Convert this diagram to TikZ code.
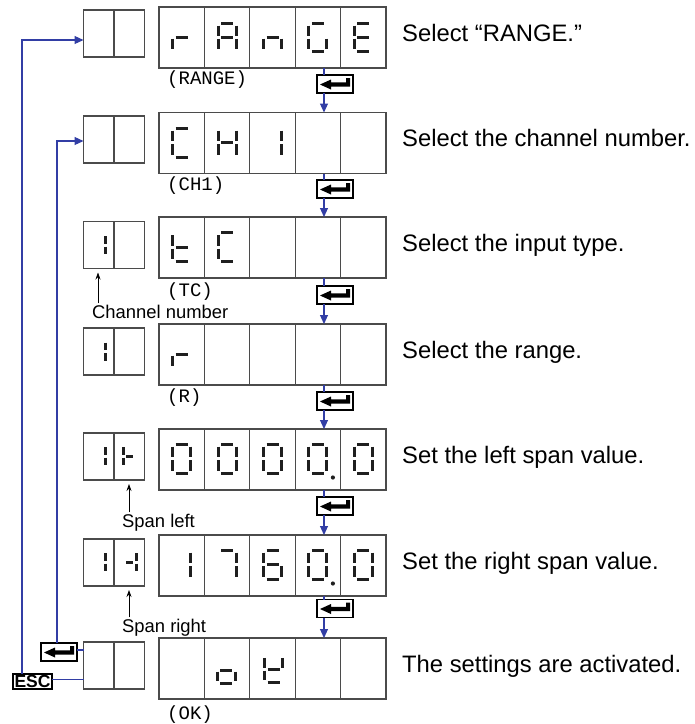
\documentclass[tikz,border=0pt]{standalone}
\usepackage{fontspec}
\setmainfont{Liberation Sans}
\newfontfamily\monof{Liberation Mono}
\usetikzlibrary{arrows.meta,calc}

\definecolor{flowblue}{RGB}{50,62,165}
\definecolor{boxgray}{RGB}{75,75,75}

\tikzset{
 lbox/.style={draw=boxgray,line width=1.3pt,minimum width=227pt,minimum height=61pt,inner sep=0pt,outer sep=0pt},
 sbox/.style={draw=boxgray,line width=1.3pt,minimum width=61pt,minimum height=47pt,inner sep=0pt,outer sep=0pt},
 divider/.style={draw=boxgray,line width=1.3pt},
 seg/.style={line width=3pt,black!88},
 flow/.style={draw=flowblue,line width=1.1pt},
 flowarrow/.style={flow,-{Triangle[length=9pt,width=8pt]}},
 note/.style={line width=0.8pt,-{Stealth[length=7pt,width=5pt]}},
 enterbox/.style={draw=black,line width=1.2pt,fill=white,minimum width=36pt,minimum height=18pt,inner sep=0pt,outer sep=0pt},
 esckey/.style={draw=black,line width=1.3pt,fill=white,minimum width=39pt,minimum height=15pt,inner sep=0pt,outer sep=0pt,font=\fontsize{17.5}{17.5}\selectfont\bfseries},
 desc/.style={anchor=base west,inner sep=0pt,font=\fontsize{23.8}{24}\selectfont},
 code/.style={anchor=base west,inner sep=0pt,font=\monof\fontsize{19}{19}\selectfont},
 lbl/.style={anchor=base west,inner sep=0pt,font=\fontsize{18.4}{19}\selectfont},
}

\newcommand{\drawsega}{\draw[seg] (-\sw+3,-\sh) -- (\sw-3,-\sh);}
\newcommand{\drawsegb}{\draw[seg] (\sw,-\sh+2.5) -- (\sw,-1.5);}
\newcommand{\drawsegc}{\draw[seg] (\sw,1.5) -- (\sw,\sh-2.5);}
\newcommand{\drawsegd}{\draw[seg] (-\sw+3,\sh) -- (\sw-3,\sh);}
\newcommand{\drawsege}{\draw[seg] (-\sw,1.5) -- (-\sw,\sh-2.5);}
\newcommand{\drawsegf}{\draw[seg] (-\sw,-\sh+2.5) -- (-\sw,-1.5);}
\newcommand{\drawsegg}{\draw[seg] (-\sw+3,0) -- (\sw-3,0);}
\newcommand{\drawsegp}{\fill[black!88] (\sw+6,\sh+4) circle (2.1pt);}

\newcommand{\SegDigit}[5]{%
  \begin{scope}[shift={(#1,#2)}]
    \def\sw{#3}\def\sh{#4}
    \foreach \s in {#5} {\csname drawseg\s\endcsname}
  \end{scope}}

\newcommand{\EnterKey}[3]{%
  \node[enterbox] (#1) at (#2,#3) {};
  \fill[black,shift={(#2,#3)}] (-15,0.5) -- (-4,-4.5) -- (-4,-1.7) -- (11,-1.7) -- (11,-6) -- (15,-6) -- (15,2.7) -- (-4,2.7) -- (-4,5.5) -- cycle;}

\begin{document}
\begin{tikzpicture}[x=1pt,y=-1pt]
\useasboundingbox (0,0) rectangle (695,724);

% large display boxes
\node[lbox] (lb1) at (272.5,37.5) {};
\node[lbox] (lb2) at (272.5,143) {};
\node[lbox] (lb3) at (272.5,247.5) {};
\node[lbox] (lb4) at (272.5,354.5) {};
\node[lbox] (lb5) at (272.5,459.5) {};
\node[lbox] (lb6) at (272.5,565.5) {};
\node[lbox] (lb7) at (272.5,668.5) {};
\foreach \r in {1,...,7}
  \foreach \dx in {-68.1,-22.7,22.7,68.1}
    \draw[divider] ([xshift=\dx pt]lb\r.north) -- ([xshift=\dx pt]lb\r.south);

% small display boxes
\node[sbox] (sb1) at (114,33.5) {};
\node[sbox] (sb2) at (114,139.5) {};
\node[sbox] (sb3) at (114,245) {};
\node[sbox] (sb4) at (114,351.5) {};
\node[sbox] (sb5) at (114,456.5) {};
\node[sbox] (sb6) at (114,562.5) {};
\node[sbox] (sb7) at (114,665.5) {};
\foreach \r in {1,...,7}
  \draw[divider] (sb\r.north) -- (sb\r.south);

% row 1: rAnGE
\SegDigit{181.7}{37}{9}{14}{e,g}
\SegDigit{227.1}{37}{9}{14}{a,b,c,e,f,g}
\SegDigit{272.5}{37}{9}{14}{c,e,g}
\SegDigit{317.9}{37}{9}{14}{a,c,d,e,f}
\SegDigit{363.3}{37}{9}{14}{a,d,e,f,g}
% row 2: CH1
\SegDigit{181.7}{142.5}{9}{14.5}{a,d,e,f}
\SegDigit{227.1}{142.5}{9}{14.5}{b,c,e,f,g}
\SegDigit{272.5}{142.5}{9}{14.5}{b,c}
% row 3: tC, small 1
\SegDigit{181.7}{247}{9}{14.5}{d,e,f,g}
\SegDigit{227.1}{247}{9}{14.5}{a,d,e,f}
\SegDigit{98.5}{245}{6.5}{11.5}{b,c}
% row 4: r, small 1
\SegDigit{181.7}{354}{9}{14.5}{e,g}
\SegDigit{98.5}{351.5}{6.5}{11.5}{b,c}
% row 5: 0000.0, small 1 |-
\SegDigit{181.7}{458.8}{9}{14.7}{a,b,c,d,e,f}
\SegDigit{227.1}{458.8}{9}{14.7}{a,b,c,d,e,f}
\SegDigit{272.5}{458.8}{9}{14.7}{a,b,c,d,e,f}
\SegDigit{317.9}{458.8}{9}{14.7}{a,b,c,d,e,f,p}
\SegDigit{363.3}{458.8}{9}{14.7}{a,b,c,d,e,f}
\SegDigit{98.5}{456}{6.5}{11.5}{b,c}
\SegDigit{129.5}{456}{6.5}{11.5}{e,f,g}
% row 6: 1760.0, small 1 -|
\SegDigit{181.7}{564.8}{9}{14.7}{b,c}
\SegDigit{227.1}{564.8}{9}{14.7}{a,b,c}
\SegDigit{272.5}{564.8}{9}{14.7}{a,c,d,e,f,g}
\SegDigit{317.9}{564.8}{9}{14.7}{a,b,c,d,e,f,p}
\SegDigit{363.3}{564.8}{9}{14.7}{a,b,c,d,e,f}
\SegDigit{98.5}{562}{6.5}{11.5}{b,c}
\SegDigit{129.5}{562}{6.5}{11.5}{b,c,g}
% row 7: oK
\SegDigit{226}{670}{9}{13.5}{c,d,e,g}
\SegDigit{273.5}{669}{9}{13.7}{b,d,e,f,g}

% code labels
\node[code] (c1) at (167,84) {(RANGE)};
\node[code] (c2) at (167,190) {(CH1)};
\node[code] (c3) at (167,296) {(TC)};
\node[code] (c4) at (167,402) {(R)};
\node[code] (c7) at (167,719) {(OK)};

% descriptions
\node[desc] (d1) at (402,41) {Select “RANGE.”};
\node[desc] (d2) at (402,146.5) {Select the channel number.};
\node[desc] (d3) at (402,251) {Select the input type.};
\node[desc] (d4) at (402,358) {Select the range.};
\node[desc] (d5) at (402,463) {Set the left span value.};
\node[desc] (d6) at (402,569) {Set the right span value.};
\node[desc] (d7) at (402,672) {The settings are activated.};

% annotation labels
\node[lbl] (chn) at (92,318) {Channel number};
\node[lbl] (spl) at (122,527) {Span left};
\node[lbl] (spr) at (122,632) {Span right};
\coordinate (ax1) at (98,0);
\coordinate (ax2) at (129,0);
\draw[note] ([yshift=1pt]chn.north -| ax1) -- ([yshift=-4pt]sb3.south -| ax1);
\draw[note] ([yshift=1pt]spl.north -| ax2) -- ([yshift=-4pt]sb5.south -| ax2);
\draw[note] ([yshift=1pt]spr.north -| ax2) -- ([yshift=-4pt]sb6.south -| ax2);

% enter keys in main flow
\EnterKey{en1}{335}{84}
\EnterKey{en2}{335}{189}
\EnterKey{en3}{335}{295}
\EnterKey{en4}{335}{401}
\EnterKey{en5}{335}{506}
\EnterKey{en6}{335}{608.5}
\coordinate (fx) at (324,0);
\foreach \i/\j in {1/2,2/3,3/4,4/5,5/6,6/7} {
  \draw[flow] (lb\i.south -| fx) -- (en\i.north -| fx);
  \draw[flowarrow] (en\i.south -| fx) -- (lb\j.north -| fx);
}

% return keys at bottom left
\EnterKey{en7}{59}{652}
\node[esckey] (esc) at (32.5,681.5) {ESC};
\coordinate (ja) at (22,40);
\coordinate (jb) at (57,141);
\coordinate (ea) at ([yshift=2pt]en7.east);
\coordinate (eb) at ([yshift=2pt]esc.east);
\draw[flowarrow] (esc.north -| ja) -- (ja) -- (sb1.west |- ja);
\draw[flowarrow] (en7.north -| jb) -- (jb) -- (sb2.west |- jb);
\draw[flow] (ea) -- (sb7.west |- ea);
\draw[flow] (eb) -- (sb7.west |- eb);
\end{tikzpicture}
\end{document}
